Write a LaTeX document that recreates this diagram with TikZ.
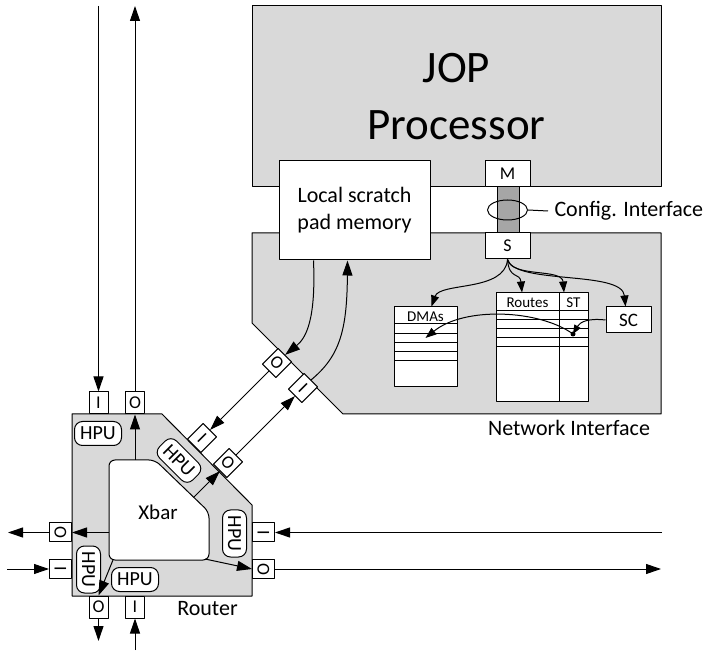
\documentclass[tikz,border=0pt]{standalone}
\usepackage{fontspec}
\setmainfont{Carlito}
\usetikzlibrary{arrows.meta,shapes.geometric}

\definecolor{blockgray}{RGB}{217,217,217}
\definecolor{bargray}{RGB}{166,166,166}

\tikzset{
  every node/.style={inner sep=0pt},
  box/.style={draw,fill=white,line width=1pt},
  port/.style={box,minimum width=19pt,minimum height=22pt,font=\fontsize{18}{18}\selectfont},
  hpu/.style={box,rounded corners=8pt,minimum width=47pt,minimum height=24pt,font=\fontsize{20}{20}\selectfont},
  link/.style={line width=1pt,-{Triangle[length=15pt,width=10pt]}},
  nilink/.style={line width=1pt,-{Triangle[length=11pt,width=8pt]}},
  lbl/.style={font=\fontsize{22}{27}\selectfont},
  small/.style={font=\fontsize{15}{15}\selectfont},
}

\begin{document}
\begin{tikzpicture}[x=1pt,y=-1pt,line width=1pt,line join=round]
  \useasboundingbox (0,0) rectangle (705,652);
  % processor and network interface
  \draw[fill=blockgray] (252,6) rectangle (661,187);
  \draw[fill=blockgray] (252,233) -- (661,233) -- (661,414) -- (343,414) -- (252,323) -- cycle;
  \node[anchor=base,font=\fontsize{45}{54}\selectfont] (jop) at (456.5,83) {JOP};
  \node[anchor=base,font=\fontsize{45}{54}\selectfont] (proc) at (456.5,140) {Processor};
  \node[box,lbl,align=center,minimum width=151pt,minimum height=99pt] (spm) at (354.5,210.5) {Local scratch\\pad memory};
  \node[lbl] (nilbl) at (569,428) {Network Interface};

  % config interface
  \draw[fill=bargray] (497,187) rectangle (519,233);
  \node[box,minimum width=45pt,minimum height=26pt,font=\fontsize{18}{18}\selectfont] (M) at (507.5,174) {M};
  \node[box,minimum width=45pt,minimum height=26pt,font=\fontsize{18}{18}\selectfont] (S) at (507.5,246) {S};
  \node[draw,ellipse,minimum width=40pt,minimum height=20pt] (cfg) at (507.5,210) {};
  \node[lbl,anchor=west,inner xsep=6pt] (cfglbl) at (548,211) {Config. Interface};
  \draw (cfg.east) -- (cfglbl.west);

  % tables
  \node[box,minimum width=63pt,minimum height=80pt] (dma) at (425.5,347) {};
  \foreach \y in {324,334,343,352,361}
    \draw (394,\y) -- (457,\y);
  \node[small] (dmalbl) at (425.5,317) {DMAs};
  \node[box,minimum width=92pt,minimum height=109pt] (rt) at (542,347.5) {};
  \foreach \y in {311,320,329,338,347}
    \draw (496,\y) -- (588,\y);
  \draw (559,293) -- (559,402);
  \node[small] (rtlbl) at (527.5,302.5) {Routes};
  \node[small] (stlbl) at (573.5,302.5) {ST};
  \node[box,minimum width=45pt,minimum height=26pt,font=\fontsize{19}{19}\selectfont] (SC) at (628.5,320) {SC};

  \coordinate (dot) at (573,334);
  \draw[nilink] (S.south) .. controls (505,292) and (440,282) .. ([xshift=6pt]dma.north);
  \draw[nilink] (S.south) .. controls (509,280) and (520,272) .. ([xshift=-20pt]rt.north);
  \draw[nilink] (S.south) .. controls (512,278) and (562,268) .. ([xshift=22pt]rt.north);
  \draw[nilink] (S.south) .. controls (515,285) and (622,270) .. ([xshift=-3pt]SC.north);
  \draw[line width=1pt,-{Triangle[length=9pt,width=7pt]}] (SC.west) .. controls (588,318) and (580,322) .. (dot);
  \fill (dot) circle (2.5pt);
  \draw[nilink] (dot) .. controls (540,310) and (465,306) .. ([yshift=9pt]dma.center);

  % network interface ports
  \node[port,rotate=-45] (nO) at (277,363) {O};
  \node[port,rotate=-45] (nI) at (303,388) {I};
  \draw[link] ([xshift=-41pt]spm.south) .. controls (316,320) and (306,338) .. (nO.north);
  \draw[link] (nI.north) .. controls (340,356) and (347,330) .. ([xshift=-7pt]spm.south);

  % router
  \draw[fill=blockgray] (72,414) -- (162,414) -- (252,505) -- (252,596) -- (72,596) -- cycle;
  \draw[fill=white,rounded corners=6pt] (109,460) -- (155,460) -- (209,512) -- (209,560) -- (109,560) -- cycle;
  \node[font=\fontsize{21}{21}\selectfont] (xbar) at (158,512) {Xbar};
  \node[lbl] (rlbl) at (207.5,608.5) {Router};
  \coordinate (xT) at (135,460);
  \coordinate (xL) at (109,532.5);
  \coordinate (xBL) at (113,560);
  \coordinate (xBR) at (205,559);
  \coordinate (xD) at (194,497);

  \node[hpu] (hpuT) at (98,433.5) {HPU};
  \node[hpu,rotate=-45] (hpuD) at (179,460.5) {HPU};
  \node[hpu,rotate=-90] (hpuR) at (234.5,533.5) {HPU};
  \node[hpu,rotate=-90] (hpuL) at (88.5,569.5) {HPU};
  \node[hpu] (hpuB) at (135,579.5) {HPU};

  \node[port] (tI) at (98.5,403) {I};
  \node[port] (tO) at (135,403) {O};
  \node[port,rotate=-90] (lO) at (60.5,532.5) {O};
  \node[port,rotate=-90] (lI) at (60.5,569) {I};
  \node[port,rotate=-90] (rI) at (263.5,532.5) {I};
  \node[port,rotate=-90] (rO) at (263.5,569) {O};
  \node[port] (bO) at (98.5,607) {O};
  \node[port] (bI) at (135,607) {I};
  \node[port,rotate=-45] (dI) at (202,438) {I};
  \node[port,rotate=-45] (dO) at (228,463) {O};

  \draw[link] (xT) -- (tO.south);
  \draw[link] (xL) -- (lO.north);
  \draw[link] (xBL) -- (bO.north);
  \draw[link] (xBR) -- (rO.south);
  \draw[link] (xD) -- (dO.south);

  % outside links
  \coordinate (nIn) at (98.5,6);
  \coordinate (nOut) at (135,6);
  \coordinate (wOut) at (8,532.5);
  \coordinate (wIn) at (7,569);
  \coordinate (eIn) at (662,532.5);
  \coordinate (eOut) at (661,569);
  \coordinate (sOut) at (98.5,641);
  \coordinate (sIn) at (135,650);
  \draw[link] (nIn) -- (tI.north);
  \draw[link] (tO.north) -- (nOut);
  \draw[link] (lO.south) -- (wOut);
  \draw[link] (wIn) -- (lI.south);
  \draw[link] (eIn) -- (rI.north);
  \draw[link] (rO.north) -- (eOut);
  \draw[link] (bO.south) -- (sOut);
  \draw[link] (sIn) -- (bI.south);
  \draw[link] (nO.south) -- (dI.north);
  \draw[link] (dO.north) -- (nI.south);
\end{tikzpicture}
\end{document}
